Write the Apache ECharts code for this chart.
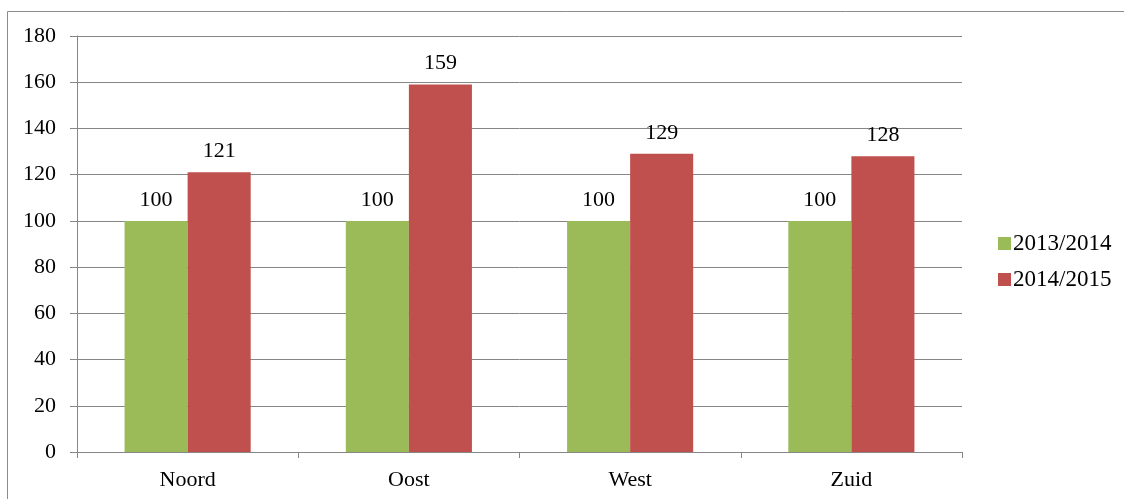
<!DOCTYPE html>
<html><head><meta charset="utf-8">
<script src="https://cdn.jsdelivr.net/npm/echarts@6/dist/echarts.min.js"></script>
<style>html,body{margin:0;padding:0;background:#fff}#c{width:1124px;height:499px}</style>
</head><body><div id="c"></div>
<script>
const categories = ['Noord', 'Oost', 'West', 'Zuid'];
const series2013 = [100, 100, 100, 100];
const series2015 = [121, 159, 129, 128];
const seriesNames = ['2013/2014', '2014/2015'];
const yTicks = {min: 0, max: 180, interval: 20};

const font = '"Liberation Serif", "Times New Roman", serif';
const fs = 22;
const chart = echarts.init(document.getElementById('c'));
const labelCfg = {show: true, position: 'top', distance: 10, fontFamily: font, fontSize: fs, color: '#000'};
chart.setOption({
  animation: false,
  textStyle: {fontFamily: font},
  graphic: [{type: 'rect', shape: {x: 7.5, y: 11.5, width: 1300, height: 700}, style: {fill: 'none', stroke: '#8c8c8c', lineWidth: 1}, silent: true}],
  grid: {left: 77, right: 162, top: 36, bottom: 47},
  legend: {
    orient: 'vertical', left: 993, top: 227, itemWidth: 13, itemHeight: 13, itemGap: 13,
    icon: 'rect',
    textStyle: {fontFamily: font, fontSize: 23, color: '#000', padding: [0, 0, 0, -3]},
    data: seriesNames
  },
  xAxis: {
    type: 'category', data: categories,
    axisLine: {lineStyle: {color: '#868686'}},
    axisTick: {show: true, length: 6, lineStyle: {color: '#868686'}},
    axisLabel: {fontFamily: font, fontSize: fs, color: '#000', margin: 17}
  },
  yAxis: {
    type: 'value', min: yTicks.min, max: yTicks.max, interval: yTicks.interval,
    axisLine: {show: true, lineStyle: {color: '#868686'}},
    axisTick: {show: true, length: 7, lineStyle: {color: '#868686'}},
    splitLine: {lineStyle: {color: '#868686'}},
    axisLabel: {fontFamily: font, fontSize: fs, color: '#000', margin: 21}
  },
  series: [
    {name: seriesNames[0], type: 'bar', data: series2013, itemStyle: {color: '#9BBB59'}, barGap: '0%', barCategoryGap: '43%', label: labelCfg},
    {name: seriesNames[1], type: 'bar', data: series2015, itemStyle: {color: '#C0504D'}, barGap: '0%', barCategoryGap: '43%', label: labelCfg}
  ]
});
</script></body></html>
